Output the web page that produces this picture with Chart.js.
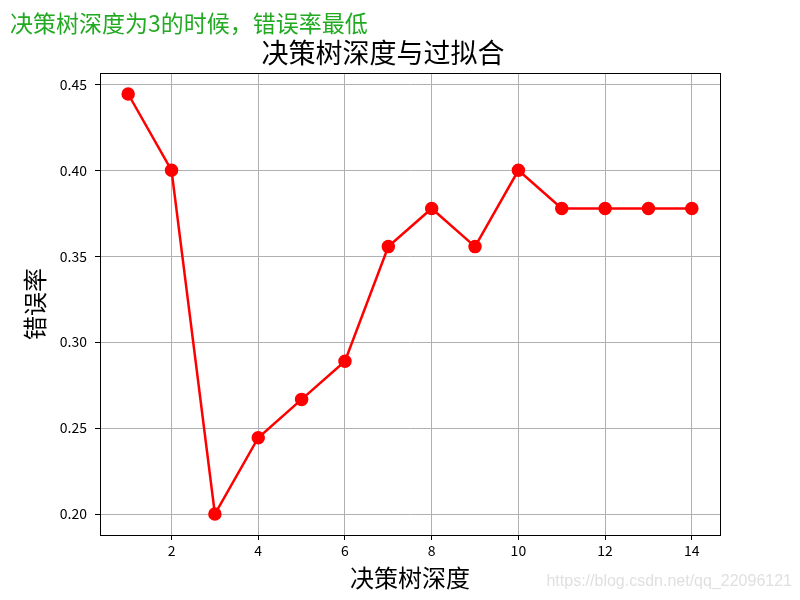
<!DOCTYPE html>
<html>
<head>
<meta charset="utf-8">
<script src="https://cdn.jsdelivr.net/npm/chart.js@4.4.0/dist/chart.umd.min.js"></script>
<style>
  html, body { margin: 0; padding: 0; background: #fff; }
  #wrap { width: 800px; height: 600px; }
</style>
</head>
<body>
<div id="wrap"><canvas id="chart"></canvas></div>
<script>
// 数据
const depths = [1, 2, 3, 4, 5, 6, 7, 8, 9, 10, 11, 12, 13, 14];
const errorRates = [0.4444, 0.4000, 0.2000, 0.2444, 0.2667, 0.2889, 0.3556,
                    0.3778, 0.3556, 0.4000, 0.3778, 0.3778, 0.3778, 0.3778];
const xTicks = [2, 4, 6, 8, 10, 12, 14];
const yTicks = [0.20, 0.25, 0.30, 0.35, 0.40, 0.45];

const cjk = "'Noto Sans CJK SC', 'DejaVu Sans', sans-serif";

// matplotlib 风格的 5% 边距
const pad = (arr) => {
    const lo = Math.min(...arr), hi = Math.max(...arr);
    const m = (hi - lo) * 0.05;
    return [lo - m, hi + m];
};
const [xMin, xMax] = pad(depths);
const [yMin, yMax] = pad(errorRates);

// 标题、外框和水印
const boxPlugin = {
    id: 'box',
    afterDraw(chart) {
        const { ctx, chartArea: a } = chart;
        ctx.save();
        ctx.strokeStyle = '#000';
        ctx.lineWidth = 1;
        ctx.strokeRect(a.left + 0.5, a.top + 0.5, a.right - a.left, a.bottom - a.top);

        ctx.fillStyle = '#000';
        ctx.font = "27px " + cjk;
        ctx.textAlign = 'center';
        ctx.textBaseline = 'middle';
        ctx.fillText('决策树深度与过拟合', 383, 53);

        ctx.fillStyle = '#e0e0e0';
        ctx.font = "16px 'Liberation Sans', Arial, sans-serif";
        ctx.textAlign = 'right';
        ctx.fillText('https://blog.csdn.net/qq_22096121', 792, 582);
        ctx.restore();
    }
};

const ctx = document.getElementById('chart');
new Chart(ctx, {
    type: 'line',
    data: {
        datasets: [{
            label: '错误率',
            data: depths.map((d, i) => ({ x: d, y: errorRates[i] })),
            borderColor: '#ff0000',
            backgroundColor: '#ff0000',
            borderWidth: 2.5,
            pointRadius: 5.5,
            pointHoverRadius: 5.5,
            tension: 0
        }]
    },
    options: {
        responsive: true,
        maintainAspectRatio: false,
        animation: false,
        layout: { padding: { left: 10, right: 80, top: 0, bottom: 0 } },
        plugins: {
            legend: { display: false },
            tooltip: { enabled: false },
            title: {
                display: true,
                text: '决策树深度为3的时候，错误率最低',
                align: 'start',
                color: '#22aa22',
                font: { family: cjk, size: 23, weight: 'normal' },
                padding: { top: 9, bottom: 36.4 }
            }
        },
        scales: {
            x: {
                type: 'linear',
                min: xMin,
                max: xMax,
                afterBuildTicks: (axis) => { axis.ticks = xTicks.map(v => ({ value: v })); },
                afterFit: (axis) => { axis.height = 65; },
                ticks: {
                    color: '#000',
                    font: { family: cjk, size: 14 },
                    padding: 2,
                    maxRotation: 0
                },
                grid: { color: '#b0b0b0', tickColor: '#000', tickLength: 5 },
                border: { display: true, color: '#000' },
                title: {
                    display: true,
                    text: '决策树深度',
                    color: '#000',
                    font: { family: cjk, size: 24 },
                    padding: { top: 2, bottom: 8 }
                }
            },
            y: {
                type: 'linear',
                min: yMin,
                max: yMax,
                afterBuildTicks: (axis) => { axis.ticks = yTicks.map(v => ({ value: v })); },
                afterFit: (axis) => { axis.width = 90; },
                ticks: {
                    color: '#000',
                    font: { family: cjk, size: 14 },
                    padding: 8,
                    callback: (v) => v.toFixed(2)
                },
                grid: { color: '#b0b0b0', tickColor: '#000', tickLength: 5 },
                border: { display: true, color: '#000' },
                title: {
                    display: true,
                    text: '错误率',
                    color: '#000',
                    font: { family: cjk, size: 24 },
                    padding: { top: 10, bottom: 0 }
                }
            }
        }
    },
    plugins: [boxPlugin]
});
</script>
</body>
</html>
